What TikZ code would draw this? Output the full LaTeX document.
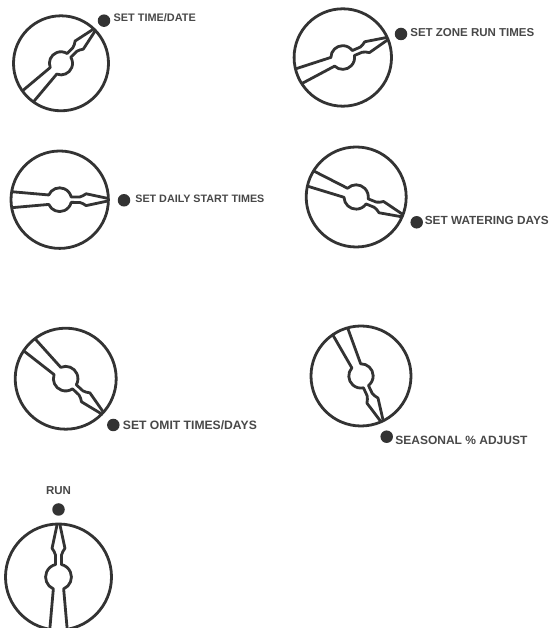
\documentclass[tikz,border=0pt]{standalone}
\usepackage{fontspec}
\setmainfont{Liberation Sans}
\usetikzlibrary{positioning}
\definecolor{ink}{HTML}{333333}
\definecolor{tagink}{HTML}{484848}
\tikzset{
  rim/.style={draw=ink,line width=2.8pt},
  led/.style={circle,fill=ink,inner sep=0pt,minimum size=12.5pt},
  tag/.style={inner sep=0pt,text=tagink,font=\bfseries\fontsize{#1}{12}\selectfont},
}
% dial: x, y (image pixels), radius, clockwise turn of the pointer
\newcommand{\dial}[4]{
  \begin{scope}[shift={(#1,628-#2)}]
    \draw[rim] (0,0) circle (#3);
    \begin{scope}[rotate=-#4,scale=#3/53.5]
      \draw[rim,line join=round] (-8.8,-53)--(-5.2,-12) arc (246.6:103:13)--(-3,22) to[out=90,in=-70] (-6.5,29)--(-1.5,52.5);
      \draw[rim,line join=round] (8.8,-53)--(5.2,-12) arc (-66.6:77:13)--(3,22) to[out=90,in=-110] (6.5,29)--(1.5,52.5);
    \end{scope}
  \end{scope}
}
\begin{document}
\begin{tikzpicture}[x=1pt,y=1pt]
\useasboundingbox (0,0) rectangle (549,628);
\dial{61}{63.3}{47.5}{45}
\dial{342.8}{57.5}{48.7}{67}
\dial{59.7}{199.7}{48.7}{90}
\dial{356.2}{197}{50}{112}
\dial{65.7}{378.7}{50.5}{133}
\dial{361}{376}{50}{155}
\dial{58.5}{577}{53}{0}
\node[led] (timedot) at (104,628-20.7) {};
\node[tag=10.9,right=3pt of timedot,yshift=3pt] (timetag) {SET TIME/DATE};
\node[led] (zonedot) at (401,628-34) {};
\node[tag=11.5,right=2.7pt of zonedot,yshift=1.7pt] (zonetag) {SET ZONE RUN TIMES};
\node[led] (startdot) at (124,628-200.3) {};
\node[tag=10.75,right=4.7pt of startdot,yshift=1pt] (starttag) {SET DAILY START TIMES};
\node[led] (waterdot) at (416.7,628-222.3) {};
\node[tag=11.8,right=1.5pt of waterdot,yshift=2pt] (watertag) {SET WATERING DAYS};
\node[led] (omitdot) at (113.3,628-425) {};
\node[tag=12.15,right=3pt of omitdot] (omittag) {SET OMIT TIMES/DAYS};
\node[led] (seasondot) at (386.7,628-436.7) {};
\node[tag=12,right=2pt of seasondot,yshift=-4pt] (seasontag) {SEASONAL \% ADJUST};
\node[led] (rundot) at (58.5,628-509.5) {};
\node[tag=11.5,above=8pt of rundot] (runtag) {RUN};
\end{tikzpicture}
\end{document}
